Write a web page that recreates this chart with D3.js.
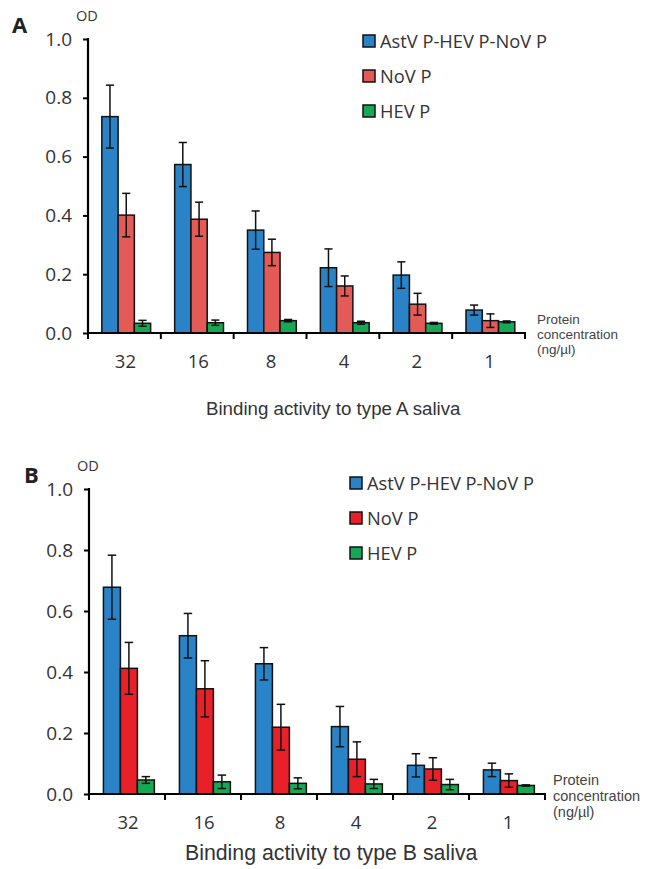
<!DOCTYPE html>
<html>
<head>
<meta charset="utf-8">
<script src="https://cdn.jsdelivr.net/npm/d3@7"></script>
<style>
  body { margin: 0; background: #fff; }
  svg { display: block; }
</style>
</head>
<body>
<div id="chart"></div>
<script>
// categories and series
var concentrations = ['32', '16', '8', '4', '2', '1'];
var seriesNames = ['AstV P-HEV P-NoV P', 'NoV P', 'HEV P'];
var yTicks = [0, 0.2, 0.4, 0.6, 0.8, 1.0];

// panel A - type A saliva
var aFusion = [0.736, 0.573, 0.350, 0.222, 0.197, 0.078];
var aFusionErr = [0.107, 0.075, 0.065, 0.064, 0.045, 0.017];
var aNoV = [0.401, 0.387, 0.274, 0.160, 0.098, 0.042];
var aNoVErr = [0.074, 0.058, 0.045, 0.034, 0.037, 0.023];
var aHEV = [0.033, 0.035, 0.042, 0.035, 0.033, 0.038];
var aHEVErr = [0.010, 0.009, 0.004, 0.005, 0.003, 0.003];

// panel B - type B saliva
var bFusion = [0.678, 0.519, 0.427, 0.221, 0.094, 0.079];
var bFusionErr = [0.105, 0.073, 0.053, 0.066, 0.038, 0.022];
var bNoV = [0.412, 0.345, 0.219, 0.114, 0.082, 0.044];
var bNoVErr = [0.085, 0.092, 0.075, 0.057, 0.037, 0.022];
var bHEV = [0.046, 0.040, 0.035, 0.033, 0.031, 0.028];
var bHEVErr = [0.011, 0.022, 0.018, 0.015, 0.017, 0.002];

var svg = d3.select('#chart')
    .append('svg')
    .attr('width', 652)
    .attr('height', 869);

function drawPanel(p) {
    var g = svg.append('g');

    var x = d3.scaleBand()
        .domain(concentrations)
        .range([p.left, p.right])
        .padding(0);

    var bw = x.bandwidth();
    var xs = d3.scaleBand()
        .domain(seriesNames)
        .range([0.19 * bw, 0.86 * bw])
        .padding(0);

    var y = d3.scaleLinear()
        .domain([0, 1])
        .range([p.bottom, p.top]);

    var series = [
        { name: seriesNames[0], vals: p.fusion, errs: p.fusionErr, color: '#2a83c6' },
        { name: seriesNames[1], vals: p.nov, errs: p.novErr, color: p.red },
        { name: seriesNames[2], vals: p.hev, errs: p.hevErr, color: '#17a856' }
    ];

    // bars
    series.forEach(function (s) {
        var rows = concentrations.map(function (c, i) {
            return { c: c, v: s.vals[i], e: s.errs[i] };
        });

        g.selectAll(null)
            .data(rows)
            .enter()
            .append('rect')
            .attr('x', d => x(d.c) + xs(s.name))
            .attr('y', d => y(d.v))
            .attr('width', xs.bandwidth())
            .attr('height', d => y(0) - y(d.v))
            .attr('fill', s.color)
            .attr('stroke', '#111')
            .attr('stroke-width', 1.5);

        // error bars
        var cap = xs.bandwidth() * 0.25;
        var eg = g.selectAll(null)
            .data(rows)
            .enter()
            .append('g')
            .attr('stroke', '#111')
            .attr('stroke-width', 1.5);

        eg.append('line')
            .attr('x1', d => x(d.c) + xs(s.name) + xs.bandwidth() / 2)
            .attr('x2', d => x(d.c) + xs(s.name) + xs.bandwidth() / 2)
            .attr('y1', d => y(d.v - d.e))
            .attr('y2', d => y(d.v + d.e));

        eg.append('line')
            .attr('x1', d => x(d.c) + xs(s.name) + xs.bandwidth() / 2 - cap)
            .attr('x2', d => x(d.c) + xs(s.name) + xs.bandwidth() / 2 + cap)
            .attr('y1', d => y(d.v + d.e))
            .attr('y2', d => y(d.v + d.e));

        eg.append('line')
            .attr('x1', d => x(d.c) + xs(s.name) + xs.bandwidth() / 2 - cap)
            .attr('x2', d => x(d.c) + xs(s.name) + xs.bandwidth() / 2 + cap)
            .attr('y1', d => y(d.v - d.e))
            .attr('y2', d => y(d.v - d.e));
    });

    // y axis
    var leftAxis = d3.axisLeft(y)
        .tickValues(yTicks)
        .tickFormat(d3.format('.1f'))
        .tickSize(5)
        .tickPadding(11);

    var yAxis = g.append('g')
        .attr('transform', `translate(${p.left}, 0)`)
        .call(leftAxis);
    yAxis.select('.domain').remove();
    yAxis.selectAll('.tick line').attr('stroke', '#000').attr('stroke-width', 2);
    yAxis.selectAll('text')
        .attr('font-family', 'Open Sans')
        .attr('font-size', 19)
        .attr('fill', '#333');

    g.append('line')
        .attr('x1', p.left).attr('x2', p.left)
        .attr('y1', p.top - 1).attr('y2', p.bottom + 1)
        .attr('stroke', '#000').attr('stroke-width', 2.2);

    // x axis: ticks at category boundaries
    var bounds = concentrations.map(c => x(c)).concat([p.right]);
    g.append('line')
        .attr('x1', p.left).attr('x2', p.right + 1)
        .attr('y1', p.bottom).attr('y2', p.bottom)
        .attr('stroke', '#000').attr('stroke-width', 2.2);

    g.selectAll(null)
        .data(bounds)
        .enter()
        .append('line')
        .attr('x1', d => d).attr('x2', d => d)
        .attr('y1', p.bottom).attr('y2', p.bottom + 6)
        .attr('stroke', '#000').attr('stroke-width', 2);

    g.selectAll(null)
        .data(concentrations)
        .enter()
        .append('text')
        .attr('x', d => x(d) + bw / 2 + 1)
        .attr('y', p.bottom + p.catDy)
        .attr('text-anchor', 'middle')
        .attr('font-family', 'Open Sans')
        .attr('font-size', 18.5)
        .attr('fill', '#333')
        .text(d => d);

    // unit label
    var unit = g.append('text')
        .attr('font-family', 'Liberation Sans, Arial')
        .attr('font-size', p.unitSize)
        .attr('fill', '#444');
    ['Protein', 'concentration', '(ng/\u00b5l)'].forEach(function (t, i) {
        unit.append('tspan')
            .attr('x', p.unitX)
            .attr('y', p.unitY + i * p.unitGap)
            .text(t);
    });

    // panel letter, OD
    g.append('text')
        .attr('x', p.letterX).attr('y', p.letterY)
        .attr('font-family', 'Open Sans')
        .attr('font-weight', 'bold')
        .attr('font-size', 22)
        .attr('fill', '#222')
        .text(p.letter);

    g.append('text')
        .attr('x', p.left - 12).attr('y', p.top - 18)
        .attr('font-family', 'Open Sans')
        .attr('font-size', 14.5)
        .attr('fill', '#333')
        .text('OD');

    // title
    g.append('text')
        .attr('x', p.titleX).attr('y', p.titleY)
        .attr('font-family', 'Liberation Sans, Arial')
        .attr('font-size', p.titleSize)
        .attr('fill', '#333')
        .text(p.title);

    // legend
    var legend = g.append('g');
    series.forEach(function (s, i) {
        var ly = p.legendY + i * 35;
        legend.append('rect')
            .attr('x', p.legendX)
            .attr('y', ly - 6)
            .attr('width', 12)
            .attr('height', 12)
            .attr('fill', s.color)
            .attr('stroke', '#111')
            .attr('stroke-width', 1.5);
        legend.append('text')
            .attr('x', p.legendX + 17)
            .attr('y', ly + 6.5)
            .attr('font-family', 'Open Sans')
            .attr('font-size', 18.3)
            .attr('fill', '#333')
            .text(s.name);
    });
}

drawPanel({
    letter: 'A', letterX: 12, letterY: 33,
    left: 88, right: 525, top: 39, bottom: 333,
    fusion: aFusion, fusionErr: aFusionErr,
    nov: aNoV, novErr: aNoVErr,
    hev: aHEV, hevErr: aHEVErr,
    red: '#e35a56',
    catDy: 35,
    unitX: 537, unitY: 324, unitGap: 15, unitSize: 13.5,
    legendX: 363, legendY: 41,
    title: 'Binding activity to type A saliva', titleX: 206, titleY: 415, titleSize: 18.7
});

drawPanel({
    letter: 'B', letterX: 24, letterY: 483,
    left: 89, right: 545, top: 489, bottom: 794,
    fusion: bFusion, fusionErr: bFusionErr,
    nov: bNoV, novErr: bNoVErr,
    hev: bHEV, hevErr: bHEVErr,
    red: '#e8202a',
    catDy: 35,
    unitX: 553, unitY: 785, unitGap: 16, unitSize: 14.5,
    legendX: 350, legendY: 483,
    title: 'Binding activity to type B saliva', titleX: 185, titleY: 860, titleSize: 21.3
});
</script>
</body>
</html>
